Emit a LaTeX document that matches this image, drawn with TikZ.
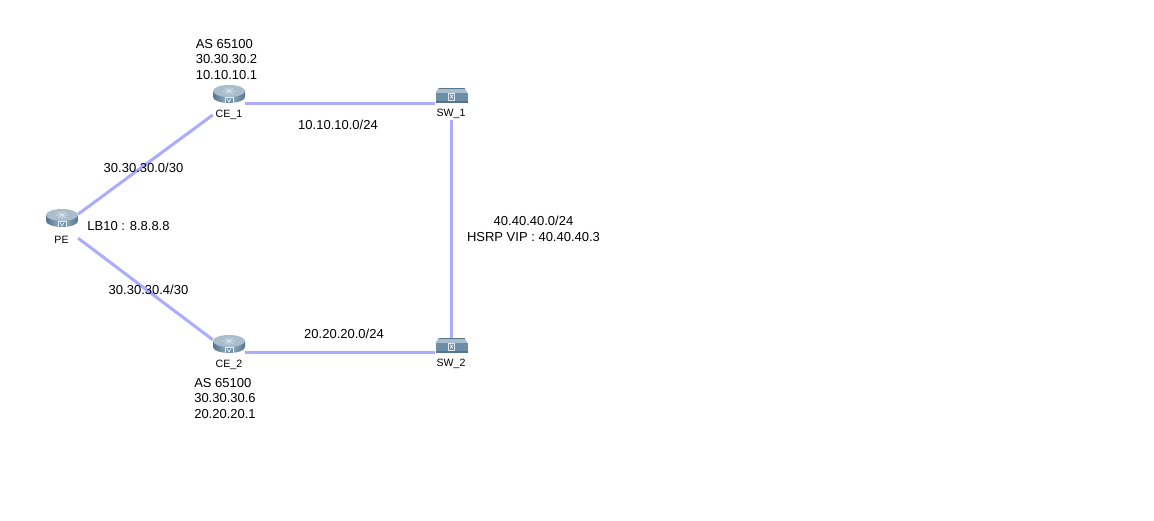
\documentclass[tikz,border=0pt]{standalone}
\usepackage{fontspec}
\setmainfont{Liberation Sans}
\definecolor{linkc}{HTML}{ABABFF}
\definecolor{iconT}{HTML}{A9BDCC}
\definecolor{iconS}{HTML}{6E8DA6}
\definecolor{iconD}{HTML}{54748F}
\definecolor{iconL}{HTML}{9DB5C7}
\tikzset{
  x=1pt,y=-1pt,
  device/.style={inner sep=0pt,minimum width=32pt,minimum height=34pt,rectangle},
  link/.style={draw=linkc,line width=3pt},
  lab/.style={font=\fontsize{13}{15.4}\selectfont,align=center,inner sep=0pt,text=black},
  labl/.style={lab,align=left},
  devlab/.style={font=\fontsize{10.6}{13}\selectfont,inner sep=0pt,text=black},
  routerIcon/.pic={
    \path[left color=iconD,right color=iconD,middle color=iconL] (-16,-12) -- (-16,-6) arc[start angle=180,end angle=0,x radius=16,y radius=6] -- (16,-12) -- cycle;
    \fill[iconT] (0,-12) ellipse[x radius=16,y radius=6];
    \draw[white,opacity=.6,line width=.6pt] (-6,-12)--(6,-12) (0,-16)--(0,-8) (-4,-15)--(4,-9) (-4,-9)--(4,-15);
    \draw[white,opacity=.8,line width=.6pt,fill=iconS] (-4,-6) rectangle (4,0);
    \draw[white,line width=.6pt] (-2,-4.5)--(0,-1)--(2,-4.5);
  },
  switchIcon/.pic={
    \fill[iconT] (-13,-7) -- (13,-7) -- (16,-2) -- (-16,-2) -- cycle;
    \draw[iconD,line width=.5pt] (-13,-7) -- (13,-7);
    \fill[iconS] (-16,-2) rectangle (16,8);
    \fill[iconD] (-16,6) rectangle (16,8);
    \draw[white,opacity=.8,line width=.6pt,fill=iconS] (-3,-2) rectangle (3,5);
    \draw[white,line width=.6pt] (-1.5,-.5)--(1.5,3.5) (1.5,-.5)--(-1.5,3.5);
  }
}
\begin{document}
\begin{tikzpicture}
\useasboundingbox[fill=white] (0,0) rectangle (1154,520);
\node[device] (PE)  at (62,226) {};
\node[device] (CE1) at (229,103) {};
\node[device] (CE2) at (229,352) {};
\node[device] (SW1) at (451.5,103) {};
\node[device] (SW2) at (451.5,352) {};
\draw[link] (PE) -- (CE1);
\draw[link] (PE) -- (CE2);
\draw[link] (CE1) -- (SW1);
\draw[link] (CE2) -- (SW2);
\draw[link,shorten >=-5pt] (SW1) -- (SW2);
\pic at (229,103) {routerIcon};
\pic at (229,353) {routerIcon};
\pic at (62,227) {routerIcon};
\pic at (451.5,95) {switchIcon};
\pic at (451.5,345) {switchIcon};
\node[devlab] (lPE)  at (61.5,239.5) {PE};
\node[devlab] (lCE1) at (229,114.5) {CE\_1};
\node[devlab] (lCE2) at (229,364.5) {CE\_2};
\node[devlab] (lSW1) at (451,113.5) {SW\_1};
\node[devlab] (lSW2) at (451,363.5) {SW\_2};
\node[labl] (t1) at (226.5,59.5) {AS 65100\\30.30.30.2\\10.10.10.1};
\node[labl] (t2) at (225,398.5) {AS 65100\\30.30.30.6\\20.20.20.1};
\node[lab] (t3) at (338,125) {10.10.10.0/24};
\node[lab] (t4) at (344,334) {20.20.20.0/24};
\node[lab] (t5) at (143.5,167.5) {30.30.30.0/30};
\node[lab] (t6) at (148.5,290) {30.30.30.4/30};
\node[lab] (t7) at (128.5,226.5) {LB10 : 8.8.8.8};
\node[lab] (t8) at (533.5,229) {40.40.40.0/24\\HSRP VIP : 40.40.40.3};
\end{tikzpicture}
\end{document}
